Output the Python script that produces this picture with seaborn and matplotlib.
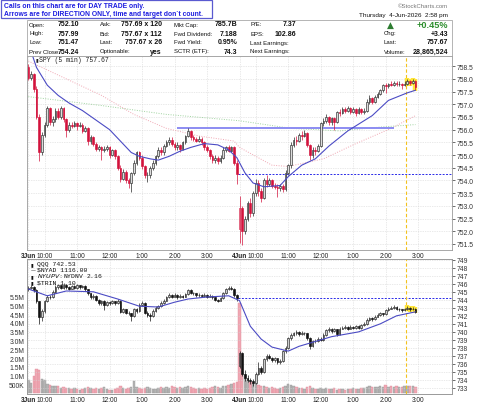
import numpy as np
import matplotlib
matplotlib.use("Agg")
import matplotlib.pyplot as plt
import seaborn as sns
from matplotlib.patches import Rectangle

sns.set_style("white")
plt.rcParams['font.family'] = ['Liberation Sans', 'DejaVu Sans']

# ---------------- data (5-minute bars, day 1 = 3 Jun, day 2 = 4 Jun) ----------------
SPY_DAY_OPEN = [758.45, 752.10]
SPY_C1 = [758.05,758.2,757.6,756.5,755.1,755.8,756.2,756.85,756.3,756.4,
          756.75,756.5,756.85,756.4,756.0,756.2,756.15,756.25,756.15,756.2,
          755.95,756.05,755.55,755.7,755.45,755.25,755.3,755.2,755.25,755.3,
          755.0,755.2,754.95,754.5,754.05,754.35,754.0,753.9,754.3,754.7,
          755.1,754.9,754.55,754.2,754.2,754.5,754.7,754.95,755.2,755.1,
          755.35,755.5,755.6,755.45,755.3,755.4,755.25,755.5,755.75,755.95,
          755.7,755.65,755.55,755.65,755.5,755.3,755.2,754.95,754.8,754.9,
          754.75,754.9,755.2,755.3,755.15,755.3,754.7,754.24]
SPY_H1 = [758.6,758.3,758.25,757.7,756.6,755.9,756.3,756.95,756.9,756.55,
          756.85,756.85,756.95,756.9,756.45,756.3,756.3,756.35,756.3,756.3,
          756.25,756.15,756.1,755.8,755.75,755.5,755.4,755.35,755.35,755.4,
          755.35,755.25,755.25,755.0,754.6,754.45,754.4,754.1,754.35,754.8,
          755.15,755.15,755.0,754.6,754.35,754.55,754.8,755.0,755.3,755.3,
          755.45,755.6,755.7,755.7,755.5,755.5,755.45,755.55,755.8,756.05,
          756.0,755.8,755.7,755.75,755.7,755.55,755.4,755.25,755.05,755.0,
          754.95,755.0,755.3,755.35,755.4,755.35,755.35,754.8]
SPY_L1 = [757.95,757.95,757.5,756.4,754.75,755.0,755.7,756.1,756.2,756.15,
          756.3,756.4,756.4,756.3,755.7,755.9,756.05,756.1,756.0,756.1,
          755.85,755.9,755.4,755.45,755.35,755.15,755.15,754.8,755.1,755.15,
          754.9,754.95,754.85,754.4,753.95,754.0,753.9,753.7,753.55,754.2,
          754.6,754.8,754.45,754.1,753.95,754.1,754.4,754.6,754.9,755.0,
          755.0,755.3,755.4,755.35,755.2,755.2,755.1,755.2,755.45,755.7,
          755.6,755.55,755.5,755.5,755.4,755.2,755.1,754.85,754.7,754.7,
          754.65,754.7,754.85,755.1,755.1,755.1,754.6,753.85]
SPY_C2 = [752.9,752.0,752.5,753.1,752.7,753.5,753.9,753.6,753.3,754.0,
          753.85,754.0,753.8,753.75,753.7,753.8,753.65,754.3,754.6,755.4,
          755.6,755.55,755.8,755.75,755.85,755.4,755.0,755.2,755.15,755.35,
          756.25,756.35,756.5,756.3,756.45,756.3,756.7,756.65,756.8,756.75,
          756.85,756.7,756.8,756.65,756.8,756.7,756.75,757.1,757.25,757.1,
          757.3,757.4,757.55,757.75,757.7,757.8,757.75,757.85,757.8,757.8,
          757.75,757.8,757.9,757.85,757.9,757.67]
SPY_H2 = [753.4,753.0,752.6,753.2,753.3,753.6,754.05,754.0,753.7,754.1,
          754.2,754.1,754.05,753.9,753.85,753.85,753.85,754.4,754.65,755.5,
          755.7,755.75,755.85,755.95,756.0,755.9,755.45,755.3,755.3,755.45,
          756.3,756.45,756.6,756.55,756.5,756.5,756.75,756.8,756.9,756.9,
          756.95,756.9,756.9,756.85,756.9,756.85,756.85,757.2,757.35,757.3,
          757.35,757.5,757.6,757.8,757.85,757.85,757.9,757.9,757.9,757.9,
          757.85,757.9,757.99,757.95,757.99,757.95]
SPY_L2 = [751.55,751.47,751.9,752.4,752.55,752.6,753.4,753.4,753.15,753.25,
          753.75,753.8,753.7,753.65,753.35,753.6,753.55,753.6,754.2,754.5,
          755.3,755.4,755.5,755.6,755.7,755.3,754.8,754.9,755.0,755.1,
          755.3,756.15,756.25,756.2,756.2,756.0,756.25,756.55,756.6,756.65,
          756.7,756.6,756.65,756.55,756.6,756.6,756.6,756.7,757.0,757.0,
          757.05,757.25,757.35,757.5,757.45,757.65,757.7,757.7,757.7,757.7,
          757.6,757.7,757.75,757.75,757.8,757.55]

QQQ_DAY_OPEN = [745.3, 735.8]
QQQ_C1 = [745.5,745.6,745.2,743.8,741.8,742.6,743.8,744.4,744.3,745.0,
          745.6,745.8,745.5,745.9,745.6,745.4,745.7,745.5,745.8,745.6,
          745.7,745.3,744.8,744.3,744.5,744.0,743.6,743.9,743.4,743.7,
          743.6,743.8,743.6,743.9,742.5,742.8,742.4,742.3,742.0,742.8,
          742.6,743.4,743.6,742.4,742.1,742.0,742.6,743.0,743.2,743.6,
          743.9,744.3,744.6,744.4,744.6,744.3,744.5,744.4,744.7,745.2,
          744.9,744.8,744.6,744.6,744.5,744.6,744.4,744.5,744.3,744.0,
          743.9,744.2,744.8,745.3,745.5,745.4,744.6,744.2]
QQQ_H1 = [745.7,745.8,745.7,745.3,743.9,742.8,744.0,744.6,744.6,745.2,
          745.8,746.0,745.9,746.1,746.0,745.7,745.9,745.8,746.0,745.9,
          745.9,745.8,745.4,744.9,744.7,744.6,744.1,744.0,744.0,743.8,
          743.8,744.0,743.9,744.1,744.0,743.0,742.9,742.6,742.4,743.0,
          743.0,743.6,743.8,743.7,742.6,742.3,742.8,743.2,743.4,743.8,
          744.1,744.5,744.8,744.7,744.8,744.7,744.7,744.6,744.9,745.4,
          745.3,745.0,744.9,744.8,744.7,744.8,744.7,744.7,744.6,744.4,
          744.1,744.4,745.0,745.5,745.7,745.7,745.5,744.7]
QQQ_L1 = [745.1,745.3,745.0,743.6,741.0,741.4,742.4,743.7,744.1,744.2,
          744.9,745.4,745.3,745.4,745.4,745.2,745.3,745.3,745.4,745.4,
          745.5,745.1,744.6,744.1,744.1,743.8,743.4,743.4,742.7,743.2,
          743.4,743.5,743.4,743.5,742.3,742.3,742.2,742.1,741.4,741.9,
          742.4,742.5,743.2,742.2,741.9,741.4,741.9,742.5,742.9,743.1,
          743.5,743.8,744.2,744.2,744.3,744.1,744.2,744.2,744.3,744.6,
          744.7,744.6,744.4,744.4,744.3,744.4,744.2,744.3,744.1,743.8,
          743.7,743.8,744.1,744.7,745.2,745.2,744.4,743.9]
QQQ_C2 = [737.4,734.8,734.3,734.0,733.9,733.6,734.8,735.5,735.0,736.6,
          737.0,736.8,736.5,736.7,736.2,736.4,737.6,738.0,739.2,739.6,
          739.8,740.0,739.7,739.9,739.8,739.2,738.2,738.8,738.9,739.1,
          739.0,739.6,740.2,740.4,740.1,740.3,739.7,740.4,740.5,740.6,
          740.4,740.6,740.5,740.7,740.5,740.8,741.0,741.5,741.7,741.6,
          741.9,742.1,742.3,742.2,742.7,742.9,743.0,743.1,742.9,742.8,
          742.7,742.8,743.0,742.8,742.9,742.53]
QQQ_H2 = [737.6,737.5,735.2,734.6,734.3,734.1,735.0,736.3,735.7,736.8,
          737.2,737.2,736.9,736.9,736.8,736.6,737.8,738.2,739.4,739.8,
          740.0,740.2,740.1,740.1,740.0,739.9,739.3,739.0,739.1,739.3,
          739.3,739.8,740.4,740.6,740.5,740.5,740.4,740.6,740.7,740.8,
          740.7,740.8,740.7,740.9,740.8,741.0,741.2,741.7,741.9,741.8,
          742.1,742.3,742.5,742.4,742.9,743.1,743.2,743.3,743.2,743.0,
          742.9,743.0,743.2,743.1,743.1,743.0]
QQQ_L2 = [735.5,734.5,733.9,733.7,733.5,733.3,733.5,734.6,734.8,734.9,
          736.4,736.6,736.3,736.3,736.0,736.0,736.3,737.4,737.9,739.0,
          739.5,739.6,739.5,739.6,739.6,739.0,737.9,738.1,738.6,738.7,
          738.8,738.9,739.5,740.0,739.9,740.0,739.5,739.6,740.3,740.4,
          740.2,740.3,740.3,740.4,740.3,740.4,740.7,740.9,741.4,741.4,
          741.5,741.8,742.0,742.0,742.1,742.6,742.8,742.9,742.7,742.6,
          742.5,742.6,742.7,742.6,742.7,742.4]

VOL_M1 = [0.78,0.6,1.0,1.4,1.35,0.8,0.75,0.55,0.5,0.45,
          0.45,0.4,0.3,0.35,0.3,0.3,0.25,0.3,0.25,0.22,
          0.25,0.3,0.35,0.3,0.28,0.3,0.25,0.3,0.35,0.25,
          0.22,0.2,0.25,0.3,0.4,0.3,0.28,0.3,0.35,0.72,
          0.35,0.3,0.25,0.3,0.35,0.3,0.28,0.25,0.3,0.35,
          0.3,0.38,0.3,0.4,0.35,0.3,0.35,0.3,0.35,0.4,
          0.35,0.3,0.28,0.3,0.25,0.3,0.28,0.3,0.35,0.4,
          0.35,0.3,0.4,0.45,0.5,0.55,0.6,0.65]
VOL_M2 = [5.1,1.25,1.05,0.78,0.65,0.6,0.55,0.5,0.45,0.4,
          0.35,0.3,0.35,0.3,0.28,0.3,0.35,0.4,0.55,0.5,
          0.4,0.35,0.3,0.3,0.25,0.35,0.4,0.3,0.28,0.25,
          0.3,0.25,0.3,0.28,0.25,0.3,0.22,0.25,0.28,0.22,
          0.25,0.28,0.3,0.25,0.28,0.3,0.3,0.35,0.4,0.35,
          0.38,0.35,0.4,0.38,0.5,0.35,0.4,0.35,0.4,0.38,
          0.35,0.4,0.45,0.4,0.4,0.35]

# moving-average / overlay lines read at bar positions
SPY_MA_IDX = [0,3,7,11,15,20,24,30,34,38,41,45,48,52,56,60,65,70,74,77,80,83,87,93,96,101,106,111,118,127,133,140,143]
SPY_MA_VAL = [759.4,758.45,757.75,757.35,757.05,756.75,756.45,756.0,755.55,755.1,754.95,754.85,754.8,754.95,755.15,755.3,755.45,755.4,755.2,754.9,
              754.3,753.9,753.75,753.8,754.15,754.6,754.85,755.35,755.95,756.55,757.15,757.45,757.55]
SPY_MA2_IDX = [0,14,27,39,51,63,76,78,90,96,109,121,134,143]
SPY_MA2_VAL = [758.7,758.0,757.35,756.6,756.05,755.75,755.55,755.3,754.6,754.55,754.85,755.45,756.05,756.55]
SPY_MA3_IDX = [0,27,51,78,97,115,130,143]
SPY_MA3_VAL = [757.3,756.95,756.6,756.35,756.05,755.95,756.1,756.2]
QQQ_MA_IDX = [0,7,14,24,33,41,48,54,59,66,74,78,82,86,90,96,100,105,112,122,130,136,143]
QQQ_MA_VAL = [745.35,744.5,745.1,745.0,744.1,743.2,743.1,743.7,744.1,744.35,744.5,743.9,740.7,739.1,738.1,737.6,738.2,738.7,739.4,740.0,741.0,742.0,742.5]

SPY_RESIST = 756.05
SPY_PREV_CLOSE = 754.24
QQQ_PREV_CLOSE = 744.2

XT_POS = [0, 6, 18, 30, 42, 54, 66, 78, 84, 96, 108, 120, 132, 144]
XT_LAB = ['3Jun', '10:00', '11:00', '12:00', '1:00', '2:00', '3:00',
          '4Jun', '10:00', '11:00', '12:00', '1:00', '2:00', '3:00']

# ---------------- helpers ----------------
W, H = 480, 406


def ohlc(day_open, c1, h1, l1, c2, h2, l2):
    c = np.array(c1 + c2, float)
    o = np.r_[day_open[0], c[:-1]]
    o[len(c1)] = day_open[1]
    return o, np.array(h1 + h2, float), np.array(l1 + l2, float), c


def draw_candles(ax, o, h, l, c, up_face, up_edge, dn_col, w=0.62):
    idx = np.arange(len(c))
    prev = np.r_[o[0], c[:-1]]
    up = c >= prev
    edge = np.where(up, up_edge, dn_col)
    hollow = c > o
    face = [('white' if not u else up_face) if hol else e
            for hol, u, e in zip(hollow, up, edge)]
    ax.vlines(idx, l, h, colors=edge, lw=0.5, zorder=3)
    bottom = np.minimum(o, c)
    height = np.maximum(np.abs(c - o), 0.015 * (ax.get_ylim()[1] - ax.get_ylim()[0]) / 7)
    ax.bar(idx, height, bottom=bottom, width=w, color=face, edgecolor=edge,
           linewidth=0.45, zorder=4)


def style_axis(ax):
    for s in ax.spines.values():
        s.set_color('#9a9a9a')
        s.set_linewidth(0.6)


fig = plt.figure(figsize=(W / 100, H / 100), dpi=100)
fig.patch.set_facecolor('white')


def T(x, y, s, ha='left', size=4.8, weight='normal', color='#111111', family=None):
    kw = {}
    if family:
        kw['family'] = family
    fig.text(x / W, 1 - y / H, s, ha=ha, va='center', fontsize=size,
             fontweight=weight, color=color, **kw)


# ---------------- header ----------------
fig.add_artist(Rectangle((0.5 / W, 1 - 19 / H), 211 / W, 18.5 / H, transform=fig.transFigure,
                         fc='white', ec='#5a5ad0', lw=0.9, zorder=5))
fig.text(4 / W, 1 - 6 / H, 'Calls on this chart are for DAY TRADE only.', fontsize=4.9,
         fontweight='bold', color='#1c1ce0', va='center', zorder=6)
fig.text(4 / W, 1 - 14.5 / H, 'Arrows are for DIRECTION ONLY, time and target don`t count.',
         fontsize=4.9, fontweight='bold', color='#1c1ce0', va='center', zorder=6)

fig.add_artist(Rectangle((27 / W, 1 - 57 / H), 425 / W, 36 / H, transform=fig.transFigure,
                         fc='none', ec='#a8a8a8', lw=0.6))
T(448, 6.5, '\u00a9StockCharts.com', ha='right', size=4.3, color='#777777')
T(448, 15.7, 'Thursday  4-Jun-2026  2:58 pm', ha='right', size=4.6)

rows_y = [25, 34, 43, 52]
col_data = [
    (29, 79, ['Open:', 'High:', 'Low:', 'Prev Close:'], ['752.10', '757.99', '751.47', '754.24']),
    (100, 162, ['Ask:', 'Bid:', 'Last:', 'Optionable:'], ['757.69 x 120', '757.67 x 112', '757.67 x 26', 'yes']),
    (174, 237, ['Mkt Cap:', 'Fwd Dividend:', 'Fwd Yield:', 'SCTR (ETF):'], ['785.7B', '7.188', '0.95%', '74.3']),
    (250, 296, ['P/E:', 'EPS:', 'Last Earnings:', 'Next Earnings:'], ['7.37', '102.86', '', '']),
]
for lx, vx, labs, vals in col_data:
    for y, lab, val in zip(rows_y, labs, vals):
        T(lx, y, lab, size=4.3)
        if val:
            T(vx, y, val, ha='right', size=5.0, weight='bold')
T(384, 34, 'Chg:', size=4.3)
T(384, 43, 'Last:', size=4.3)
T(384, 52, 'Volume:', size=4.3)
T(448, 34, '+3.43', ha='right', size=5.0, weight='bold')
T(448, 43, '757.67', ha='right', size=5.0, weight='bold')
T(448, 52, '28,865,524', ha='right', size=5.0, weight='bold')
T(448, 25, '+0.45%', ha='right', size=6.6, weight='bold', color='#2f8f2f')
fig.text(390 / W, 1 - 25 / H, '\u25b2', ha='center', va='center', fontsize=6.5,
         color='#2e7d32', family='DejaVu Sans')

# ---------------- top pane: SPY ----------------
ax_t = fig.add_axes([27 / W, 1 - 251 / H, 425 / W, 194 / H])
ax_t.set_xlim(-0.5, 156.5)
ax_t.set_ylim(751.26, 758.9)
style_axis(ax_t)

so, sh, sl, sc = ohlc(SPY_DAY_OPEN, SPY_C1, SPY_H1, SPY_L1, SPY_C2, SPY_H2, SPY_L2)
n = len(sc)
idx_all = np.arange(n)

sns.lineplot(x=SPY_MA3_IDX, y=SPY_MA3_VAL, ax=ax_t, color='#9fd39f', lw=0.7,
             linestyle=(0, (1, 1.5)), estimator=None, sort=False, zorder=2)
sns.lineplot(x=SPY_MA2_IDX, y=SPY_MA2_VAL, ax=ax_t, color='#f0a8b4', lw=0.7,
             linestyle=(0, (1, 1.5)), estimator=None, sort=False, zorder=2)
ax_t.hlines(SPY_RESIST, 55, 135, color='#8c8cf2', lw=1.4, zorder=2)
ax_t.hlines(SPY_PREV_CLOSE, 77.5, 156.5, color='#2a2ae8', lw=0.7, linestyle=(0, (2, 1.5)), zorder=2)
ax_t.axvline(139.6, color='#f2c21e', lw=0.8, linestyle=(0, (3, 2)), zorder=2)
# highlight of the latest bars
hl = idx_all[-4:]
ax_t.vlines(hl, sl[-4:] - 0.04, sh[-4:] + 0.04, colors='#ffe53a', lw=3.2, zorder=2.5)
draw_candles(ax_t, so, sh, sl, sc, '#dcdcdc', '#2a2a2a', '#d3123c')
sns.lineplot(x=SPY_MA_IDX, y=SPY_MA_VAL, ax=ax_t, color='#4b4bc4', lw=0.8,
             estimator=None, sort=False, zorder=5)

ax_t.yaxis.tick_right()
ax_t.set_yticks(np.arange(751.5, 758.51, 0.5))
ax_t.set_yticklabels([f'{v:.1f}' for v in np.arange(751.5, 758.51, 0.5)])
ax_t.tick_params(axis='y', right=True, length=2, width=0.5, pad=1.5, labelsize=4.9,
                 colors='#333333')
ax_t.set_xticks(XT_POS)
ax_t.set_xticklabels(XT_LAB)
ax_t.tick_params(axis='x', length=0, pad=1.2, labelsize=4.7, colors='#222222')
for lab in ax_t.get_xticklabels():
    if 'Jun' in lab.get_text():
        lab.set_fontweight('bold')
ax_t.grid(True, color='#d4d4d4', lw=0.5, linestyle=(0, (1, 1.5)))
ax_t.set_axisbelow(True)
ax_t.set_xlabel('')
ax_t.set_ylabel('')
ax_t.text(2.6, 758.78, '\u25ae', fontsize=3.5, color='#222222', va='center', ha='left',
          family='DejaVu Sans')
ax_t.text(4.0, 758.78, 'SPY (5 min) 757.67', fontsize=4.7, family='Liberation Mono',
          color='#222222', va='center', ha='left')

# ---------------- bottom pane: volume (left) + QQQ (right) ----------------
ax_b = fig.add_axes([27 / W, 1 - 395 / H, 425 / W, 135 / H])
ax_b.set_xlim(-0.5, 156.5)
ax_b.set_ylim(-0.03, 7.62)
style_axis(ax_b)
vol = np.array(VOL_M1 + VOL_M2, float)
vprev = np.r_[sc[0], sc[:-1]]
vcol = np.where(sc >= vprev, '#b4b4b4', '#f0a7b3')
vedge = np.where(sc >= vprev, '#9a9a9a', '#e0909e')
ax_b.bar(idx_all, vol, width=0.9, color=vcol, edgecolor=vedge, linewidth=0.3, zorder=2)
ax_b.set_yticks(np.arange(0.5, 5.51, 0.5))
ax_b.set_yticklabels(['500K'] + [f'{v:.1f}M' for v in np.arange(1.0, 5.51, 0.5)])
ax_b.tick_params(axis='y', left=False, length=0, pad=1.5, labelsize=4.9, colors='#333333')
ax_b.set_xticks(XT_POS)
ax_b.set_xticklabels(XT_LAB)
ax_b.tick_params(axis='x', length=0, pad=1.2, labelsize=4.7, colors='#222222')
for lab in ax_b.get_xticklabels():
    if 'Jun' in lab.get_text():
        lab.set_fontweight('bold')
ax_b.grid(True, axis='x', color='#d4d4d4', lw=0.5, linestyle=(0, (1, 1.5)))
ax_b.set_axisbelow(True)

ax_q = ax_b.twinx()
ax_q.set_xlim(-0.5, 156.5)
ax_q.set_ylim(732.25, 749.09)
style_axis(ax_q)
qo, qh, ql, qc = ohlc(QQQ_DAY_OPEN, QQQ_C1, QQQ_H1, QQQ_L1, QQQ_C2, QQQ_H2, QQQ_L2)
ax_q.grid(True, axis='y', color='#d4d4d4', lw=0.5, linestyle=(0, (1, 1.5)), zorder=0)
ax_q.hlines(QQQ_PREV_CLOSE, 77.5, 156.5, color='#2a2ae8', lw=0.7, linestyle=(0, (2, 1.5)), zorder=2)
ax_q.axvline(139.6, color='#f2c21e', lw=0.8, linestyle=(0, (3, 2)), zorder=2)
ax_q.vlines(hl, ql[-4:] - 0.1, qh[-4:] + 0.1, colors='#ffe53a', lw=3.2, zorder=2.5)
draw_candles(ax_q, qo, qh, ql, qc, '#cccccc', '#222222', '#111111')
sns.lineplot(x=QQQ_MA_IDX, y=QQQ_MA_VAL, ax=ax_q, color='#4b4bc4', lw=0.8,
             estimator=None, sort=False, zorder=5)
ax_q.set_yticks(np.arange(733, 749.1, 1))
ax_q.set_yticklabels([f'{int(v)}' for v in np.arange(733, 749.1, 1)])
ax_q.tick_params(axis='y', right=True, length=2, width=0.5, pad=1.5, labelsize=4.9,
                 colors='#333333')
ax_q.set_ylabel('')

leg_lines = [('\u25ae', 'QQQ 742.53'), ('\u2014', '$NYAD 1116.00'),
             ('\u25ae', '$NYUPV:$NYDNV 2.16'), ('\u25ae', '$TRIN 1.10')]
for k, (icon, txt) in enumerate(leg_lines):
    yy = 264.3 + k * 6.1
    T(30.5, yy, icon, size=3.5, family='DejaVu Sans')
    T(37, yy, txt, size=4.6, family='Liberation Mono')

fig.savefig('out.png', dpi=100, facecolor='white')
